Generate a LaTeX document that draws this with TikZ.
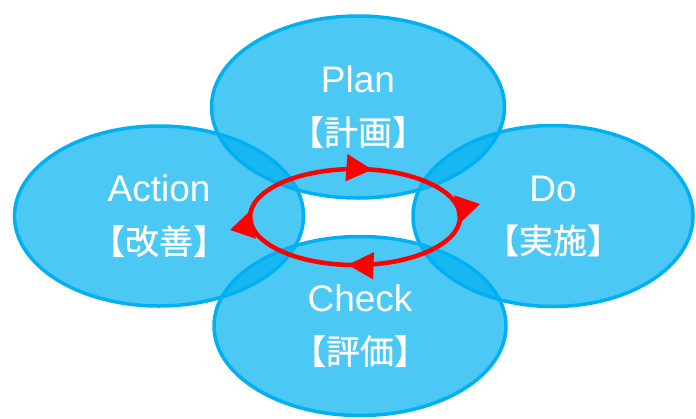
\documentclass[tikz,border=0pt]{standalone}
\usepackage{fontspec}
\setmainfont{Liberation Sans}
\newfontfamily\jpfont[FakeBold=0.8]{Noto Sans CJK JP}
\usetikzlibrary{shapes.geometric, arrows.meta, decorations.markings}
\definecolor{pdcablue}{RGB}{0,176,240}
\definecolor{pdcared}{RGB}{255,0,0}
\newcommand{\phase}[2]{#1\\{\jpfont\fontsize{34}{52}\selectfont 【#2】}}

\begin{document}
\begin{tikzpicture}[x=1pt, y=-1pt,
                petal/.style={ellipse, draw=pdcablue, line width=3.5pt, fill=pdcablue, fill opacity=0.7, text opacity=1, text=white, inner sep=0pt, align=center, font=\fontsize{37}{52}\selectfont},
                cyclearrow/.style={draw=pdcared, line width=4.5pt}
            ]
            \useasboundingbox (0,0) rectangle (696,418);

            % Phasen
            \node[petal, minimum width=293pt, minimum height=182pt] (plan) at (358,107) {\phase{Plan}{計画}};
            \node[petal, minimum width=280pt, minimum height=181pt] (do) at (553,216) {\phase{Do}{実施}};
            \node[petal, minimum width=292pt, minimum height=179pt] (check) at (360,326) {\phase{Check}{評価}};
            \node[petal, minimum width=289pt, minimum height=180pt] (action) at (159,216) {\phase{Action}{改善}};

            % Kreislauf
            \coordinate (loop) at (355,217);
            \draw[cyclearrow, postaction={decorate, decoration={markings,
                mark=at position 0.015 with {\arrow[pdcared]{Triangle[length=26pt, width=26pt]}},
                mark=at position 0.265 with {\arrow[pdcared]{Triangle[length=26pt, width=26pt]}},
                mark=at position 0.515 with {\arrow[pdcared]{Triangle[length=26pt, width=26pt]}},
                mark=at position 0.785 with {\arrow[pdcared]{Triangle[length=26pt, width=26pt]}}}}]
                (loop) ellipse [x radius=105, y radius=48];

        \end{tikzpicture}
\end{document}
